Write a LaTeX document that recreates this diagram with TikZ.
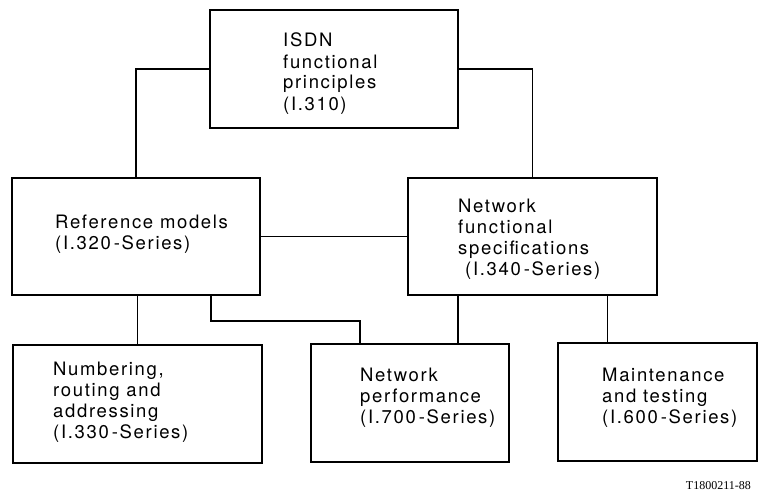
\documentclass[tikz,border=0pt]{standalone}
\usepackage{fontspec}
\usepackage{tikz}
\usetikzlibrary{positioning}
\newfontfamily\boxfont{TeX Gyre Heros}[LetterSpace=9]
\newfontfamily\tagfont{Liberation Serif}

\begin{document}
\begin{tikzpicture}[x=1pt,y=-1pt,
  box node/.style={rectangle,draw,line width=2pt,inner sep=0pt},
  text node/.style={anchor=base west,align=left,inner sep=0pt,
    font=\boxfont\fontsize{18.5}{21}\selectfont},
  link/.style={line width=1.1pt}]

  \useasboundingbox (0,0) rectangle (760,495);

  % boxes
  \node[box node,minimum width=248pt,minimum height=118pt] (isdn) at (334,69) {};
  \node[box node,minimum width=248pt,minimum height=117pt] (ref) at (136,236.5) {};
  \node[box node,minimum width=249pt,minimum height=117pt] (nfs) at (532.5,236) {};
  \node[box node,minimum width=249pt,minimum height=118pt] (num) at (137.5,404) {};
  \node[box node,minimum width=198pt,minimum height=118pt] (perf) at (410,403) {};
  \node[box node,minimum width=199pt,minimum height=118pt] (maint) at (657.5,402) {};

  % texts (placed at the baseline of their last line)
  \node[text node] (isdn text) at (283,110) {ISDN\\functional\\principles\\(I.310)};
  \node[text node] (ref text) at (55,249) {Reference models\\(I.320\,-Series)};
  \node[text node] (nfs text) at (458,275) {Network\\functional\\specifications\\\hspace*{7pt}(I.340\,-Series)};
  \node[text node] (num text) at (53,438) {Numbering,\\routing and\\addressing\\(I.330\,-Series)};
  \node[text node] (perf text) at (360,423) {Network\\performance\\(I.700\,-Series)};
  \node[text node] (maint text) at (602,423) {Maintenance\\and testing\\(I.600\,-Series)};
  \node[anchor=base east,inner sep=0pt,font=\tagfont\fontsize{12}{14}\selectfont] (tag) at (751,489) {T1800211-88};

  % links
  \draw[link] (isdn.west) -| (ref.north);
  \draw[link] (isdn.east) -| (nfs.north);
  \draw[link] (ref.east) -- (ref.east -| nfs.west);
  \draw[link] (num.north) -- (num.north |- ref.south);
  \draw[link] ([xshift=75pt]ref.south) -- ++(0,25) -| ([xshift=-50pt]perf.north);
  \draw[link] ([xshift=48pt]perf.north) -- ([xshift=48pt]perf.north |- nfs.south);
  \draw[link] ([xshift=-50pt]maint.north) -- ([xshift=-50pt]maint.north |- nfs.south);
\end{tikzpicture}
\end{document}
